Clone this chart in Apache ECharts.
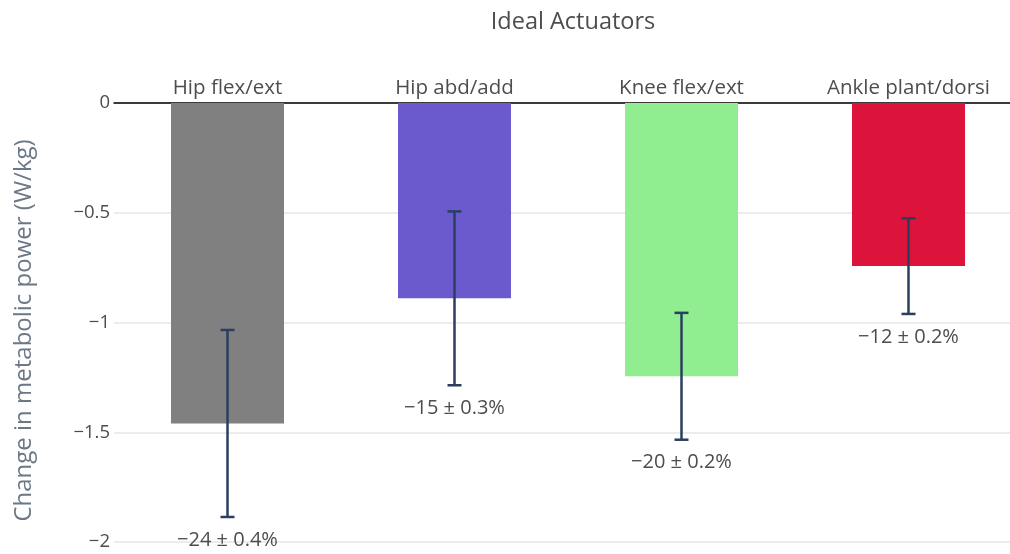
<!DOCTYPE html>
<html>
<head>
<meta charset="utf-8">
<script src="https://cdn.jsdelivr.net/npm/echarts@6/dist/echarts.min.js"></script>
<style>
  html, body { margin: 0; padding: 0; background: #fff; overflow: hidden; }
  /* the plot runs a little past the right edge of the window */
  #chart { width: 1030px; height: 554px; }
</style>
</head>
<body>
<div id="chart"></div>
<script>
// Joint actuators and their change in metabolic power (W/kg)
const categories = ['Hip flex/ext', 'Hip abd/add', 'Knee flex/ext', 'Ankle plant/dorsi'];
const values = [-1.46, -0.89, -1.245, -0.743];
const errors = [0.426, 0.396, 0.289, 0.218];
const percentLabels = ['\u221224 \u00b1 0.4%', '\u221215 \u00b1 0.3%', '\u221220 \u00b1 0.2%', '\u221212 \u00b1 0.2%'];
const barColors = ['#808080', '#6a5acd', '#90ee90', '#dc143c'];
const yTicks = { min: -2, max: 0, interval: 0.5 };

const FONT = '"Open Sans", "Noto Sans", sans-serif';
const TEXT = '#4d4d4d';
const chart = echarts.init(document.getElementById('chart'), null, { renderer: 'canvas' });

const errorData = categories.map((c, i) => [i, values[i] - errors[i], values[i] + errors[i]]);

chart.setOption({
  backgroundColor: '#ffffff',
  animation: false,
  title: {
    text: 'Ideal Actuators',
    left: 568, top: 5, textAlign: 'center',
    textStyle: { fontFamily: FONT, fontSize: 23.5, fontWeight: 'normal', color: TEXT }
  },
  grid: { left: 114, top: 103, width: 908, height: 439, containLabel: false },
  xAxis: {
    type: 'category',
    position: 'top',
    data: categories,
    axisLine: { show: true, lineStyle: { color: '#000', width: 1.5 } },
    axisTick: { show: false },
    axisLabel: { margin: 4, fontFamily: FONT, fontSize: 20.5, color: TEXT },
    splitLine: { show: false }
  },
  yAxis: {
    type: 'value',
    min: yTicks.min, max: yTicks.max, interval: yTicks.interval,
    name: 'Change in metabolic power (W/kg)',
    nameLocation: 'middle',
    nameGap: 78,
    nameTextStyle: { fontFamily: FONT, fontSize: 24, color: '#6b7888', padding: [0, 16, 0, 0] },
    axisLine: { show: false },
    axisTick: { show: false },
    axisLabel: {
      margin: 4, fontFamily: FONT, fontSize: 18.5, color: TEXT,
      formatter: v => (v < 0 ? '\u2212' + String(-v) : String(v))
    },
    splitLine: { show: true, lineStyle: { color: '#e6e6e6', width: 1.5 } }
  },
  series: [
    {
      type: 'bar',
      data: values.map((v, i) => ({ value: v, itemStyle: { color: barColors[i] } })),
      barWidth: 113,
      z: 2
    },
    {
      type: 'custom',
      data: errorData,
      z: 5,
      encode: { x: 0, y: [1, 2] },
      renderItem: (params, api) => {
        const i = api.value(0);
        const lo = api.coord([i, api.value(1)]);
        const hi = api.coord([i, api.value(2)]);
        const half = 7;
        const style = { stroke: '#2a3f5f', lineWidth: 2.5 };
        return {
          type: 'group',
          children: [
            { type: 'line', shape: { x1: hi[0], y1: hi[1], x2: lo[0], y2: lo[1] }, style },
            { type: 'line', shape: { x1: hi[0] - half, y1: hi[1], x2: hi[0] + half, y2: hi[1] }, style },
            { type: 'line', shape: { x1: lo[0] - half, y1: lo[1], x2: lo[0] + half, y2: lo[1] }, style },
            {
              type: 'text',
              style: {
                x: lo[0], y: lo[1] + 23,
                text: percentLabels[params.dataIndex],
                fill: TEXT, font: '20px ' + FONT,
                align: 'center', verticalAlign: 'middle'
              }
            }
          ]
        };
      }
    }
  ]
});
</script>
</body>
</html>
